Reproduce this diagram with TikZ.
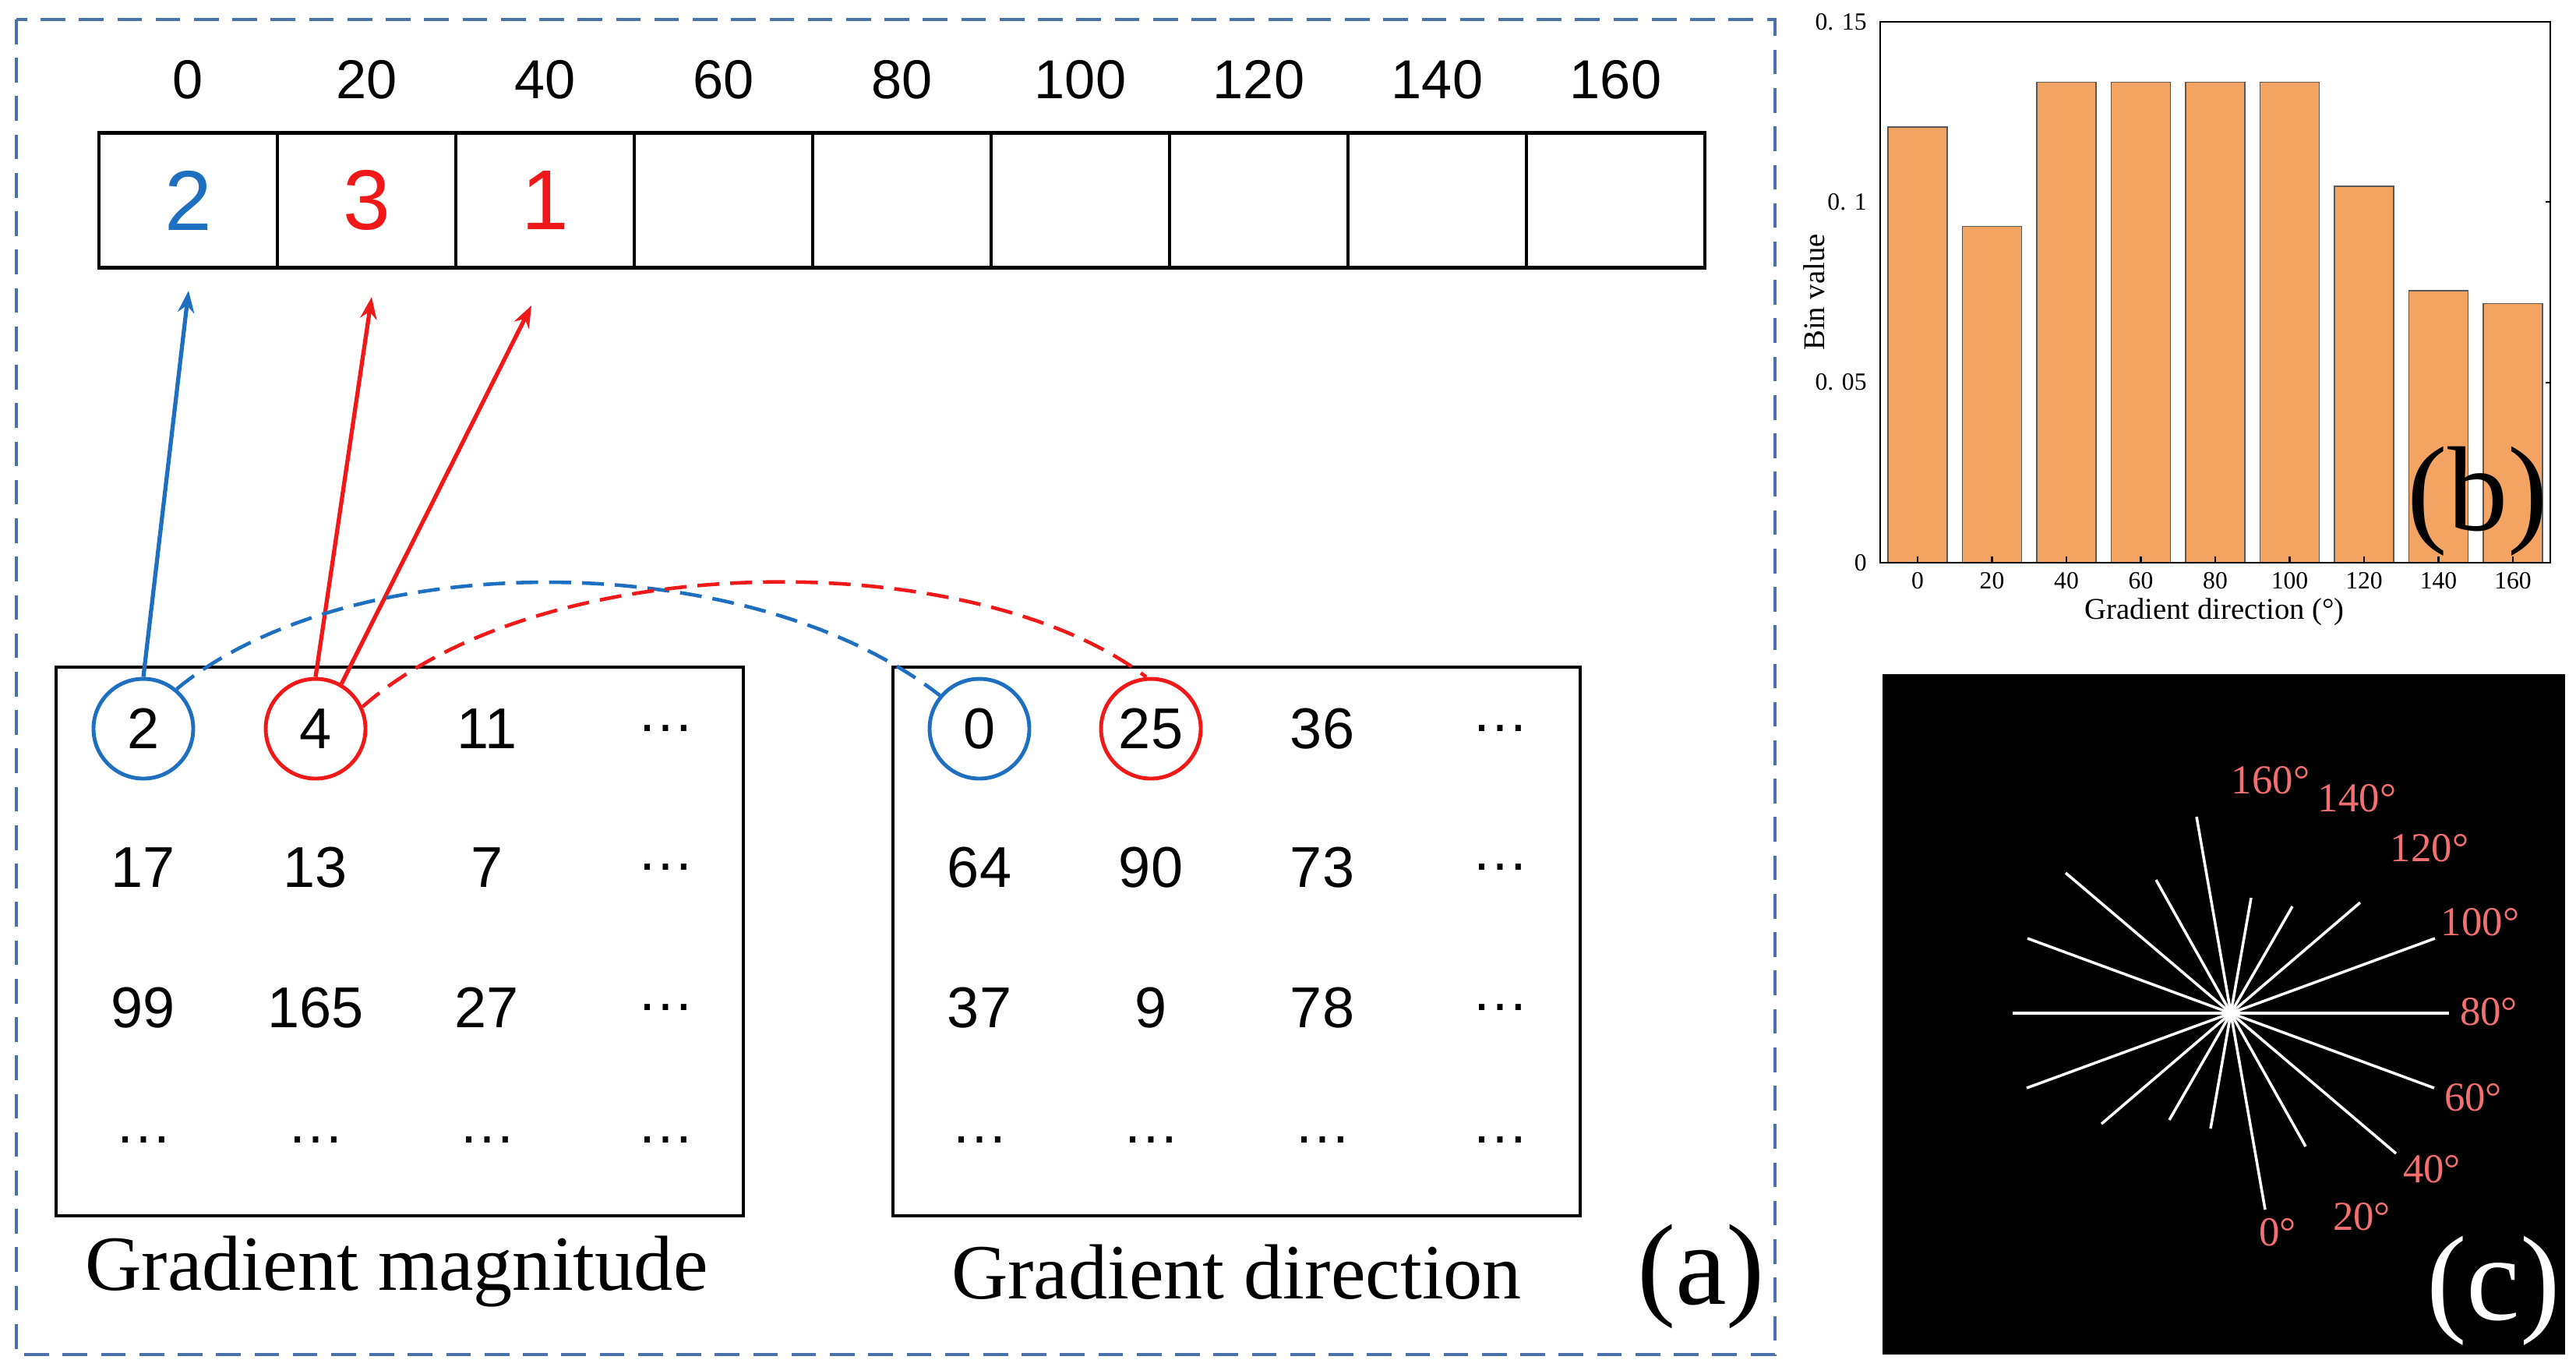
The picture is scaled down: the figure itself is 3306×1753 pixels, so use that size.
\documentclass[tikz,border=0pt]{standalone}
\usepackage{fontspec}
\setmainfont{Liberation Serif}
\newfontfamily\sansf{Liberation Sans}
\usetikzlibrary{arrows.meta,calc}
\definecolor{fblue}{HTML}{1F6FC0}
\definecolor{fred}{HTML}{F01818}
\definecolor{frame}{HTML}{4A72A8}
\definecolor{bar}{HTML}{F4A462}
\definecolor{lab}{HTML}{F47070}
\begin{document}
\begin{tikzpicture}[x=0.01cm,y=-0.01cm,
  cell/.style={draw,line width=1.2pt,minimum width=229*0.01cm,minimum height=173*0.01cm,inner sep=0,font=\sansf\fontsize{31}{34}\selectfont},
  hdr/.style={font=\sansf\fontsize{20}{24}\selectfont},
  num/.style={font=\sansf\fontsize{21}{24}\selectfont},
  circ/.style={circle,line width=1.4pt,minimum size=128*0.01cm,inner sep=0},
  box/.style={draw,line width=1.3pt},
  arr/.style={line width=1.5pt,-{Stealth[length=8pt,width=6pt]}},
  big/.style={font=\fontsize{28.5}{32}\selectfont},
  tick/.style={font=\fontsize{9}{10}\selectfont},
  deg/.style={text=lab,font=\fontsize{15}{17}\selectfont},
]
\useasboundingbox (0,0) rectangle (3306,1753);
\draw[frame,line width=1.3pt,dash pattern=on 9pt off 5pt] (21,25) rectangle (2278,1738);
% top array
\foreach \i/\h/\v/\c in {0/0/2/fblue,1/20/3/fred,2/40/1/fred,3/60//black,4/80//black,5/100//black,6/120//black,7/140//black,8/160//black}{
  \node[cell,text=\c] (c\i) at (127+114.5+229*\i,257) {\v};
  \node[hdr] (h\i) at (127+114.5+229*\i,102) {\h};
}
% matrices
\node[box,minimum width=882*0.01cm,minimum height=704*0.01cm] (mb) at (513,1208) {};
\node[box,minimum width=882*0.01cm,minimum height=704*0.01cm] (db) at (1587,1208) {};
\foreach \r/\y/\a/\b/\cc/\d in {2/1113/17/13/7/\dots,3/1293/99/165/27/\dots,4/1463/\dots/\dots/\dots/\dots}{
  \node[num] (m\r1) at (184,\y) {\a};
  \node[num] (m\r2) at (405,\y) {\b};
  \node[num] (m\r3) at (625,\y) {\cc};
  \node[num] (m\r4) at (854,\y) {\d};
}
\foreach \r/\y/\a/\b/\cc/\d in {2/1113/64/90/73/\dots,3/1293/37/9/78/\dots,4/1463/\dots/\dots/\dots/\dots}{
  \node[num] (d\r1) at (1257,\y) {\a};
  \node[num] (d\r2) at (1477,\y) {\b};
  \node[num] (d\r3) at (1697,\y) {\cc};
  \node[num] (d\r4) at (1925,\y) {\d};
}
\node[num,circ,draw=fblue] (m11) at (184,935) {2};
\node[num,circ,draw=fred] (m12) at (405,935) {4};
\node[num] (m13) at (625,935) {11};
\node[num] (m14) at (854,935) {\dots};
\node[num,circ,draw=fblue] (d11) at (1257,935) {0};
\node[num,circ,draw=fred] (d12) at (1477,935) {25};
\node[num] (d13) at (1697,935) {36};
\node[num] (d14) at (1925,935) {\dots};
\node[big] (gm) at (509,1632) {Gradient magnitude};
\node[big] (gd) at (1587,1632) {Gradient direction};
\node[font=\fontsize{42}{46}\selectfont] (la) at (2183,1638) {(a)};
% arrows
\coordinate (t1) at (242,373);
\coordinate (t2) at (477,381);
\coordinate (t3) at (682,392);
\draw[arr,fblue] (m11.north) -- (t1);
\draw[arr,fred] (m12.north) -- (t2);
\draw[arr,fred] (m12.60) -- (t3);
\draw[fblue,line width=1.3pt,dash pattern=on 8pt off 4pt] (m11.50) .. controls (450,700) and (960,700) .. (d11.140);
\draw[fred,line width=1.3pt,dash pattern=on 8pt off 4pt] (m12.25) .. controls (700,700) and (1250,700) .. (d12.95);
% panel b
\foreach \i/\v in {0/0.1208,1/0.0932,2/0.1333,3/0.1333,4/0.1333,5/0.1333,6/0.1044,7/0.0754,8/0.0719}{
  \draw[fill=bar,draw=gray!70!black,line width=0.4pt] (2461+95.5*\i-38,722) rectangle (2461+95.5*\i+38,722-4627*\v);
  \draw[line width=0.6pt] (2461+95.5*\i,722) -- (2461+95.5*\i,714);
}
\draw[line width=0.8pt] (2413,28) rectangle (3273,722);
\foreach \v/\t in {0/0,0.05/0. 05,0.1/0. 1,0.15/0. 15}{
  \node[tick,anchor=east] at (2408,722-4627*\v) {\t};
  \draw[line width=0.6pt] (3273,722-4627*\v) -- (3267,722-4627*\v);
}
\foreach \i/\t in {0/0,1/20,2/40,3/60,4/80,5/100,6/120,7/140,8/160}
  \node[tick] at (2461+95.5*\i,745) {\t};
\node[font=\fontsize{11}{12}\selectfont] (xl) at (2842,785) {Gradient direction (\textdegree)};
\node[font=\fontsize{11}{12}\selectfont,rotate=90] (yl) at (2328,375) {Bin value};
\node[font=\fontsize{44}{48}\selectfont] (lb) at (3180,643) {(b)};
% panel c
\fill[black] (2416,865) rectangle (3292,1738);
\coordinate (C) at (2863,1300);
\foreach \dx/\dy in {280/0,262/-96,-261/-96,166/-142,-212/-180,79/-137,-96/-171,26/-148,-44/-252}
  \draw[white,line width=1pt] ($(C)+(\dx,\dy)$) -- ($(C)+(-\dx,-\dy)$);
\fill[white] (C) circle (8);
\node[deg] at (2914,1001) {160\textdegree};
\node[deg] at (3025,1024) {140\textdegree};
\node[deg] at (3118,1088) {120\textdegree};
\node[deg] at (3183,1183) {100\textdegree};
\node[deg] at (3194,1298) {80\textdegree};
\node[deg] at (3174,1408) {60\textdegree};
\node[deg] at (3121,1500) {40\textdegree};
\node[deg] at (3031,1561) {20\textdegree};
\node[deg] at (2923,1581) {0\textdegree};
\node[white,font=\fontsize{44}{48}\selectfont] (lc) at (3200,1656) {(c)};
\end{tikzpicture}
\end{document}
